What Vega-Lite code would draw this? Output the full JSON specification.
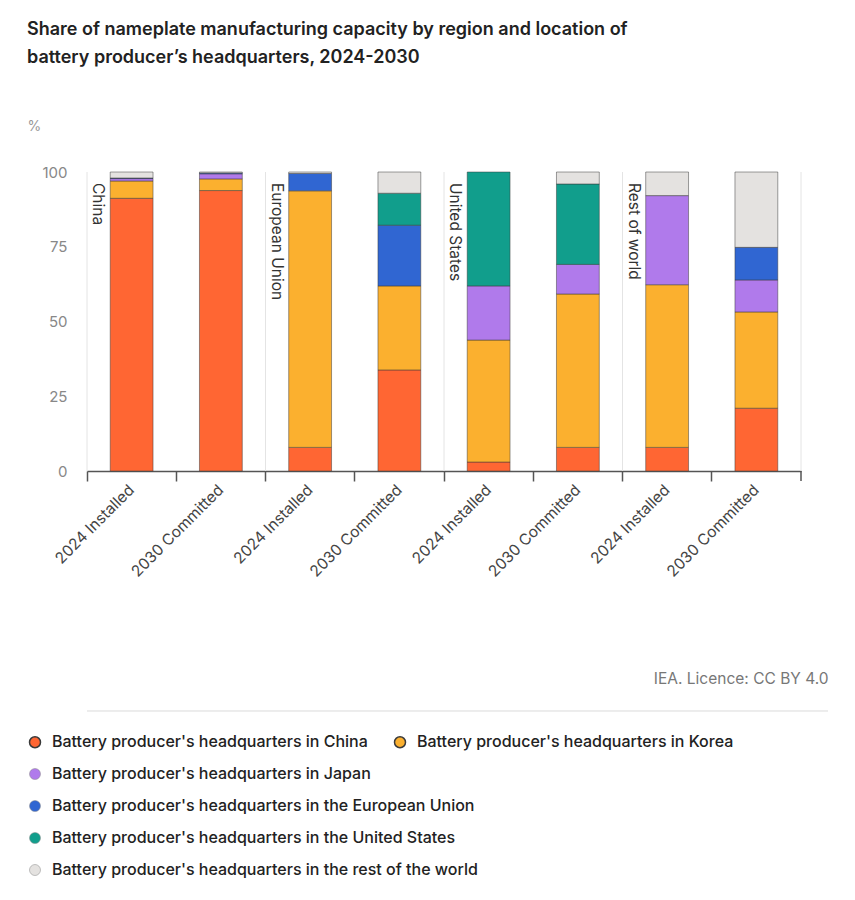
{
  "$schema": "https://vega.github.io/schema/vega-lite/v6.json",
  "width": 714,
  "height": 299,
  "autosize": {"type": "none"},
  "padding": {"left": 87, "top": 172, "right": 54, "bottom": 429},
  "background": "white",
  "title": {
    "text": ["Share of nameplate manufacturing capacity by region and location of", "battery producer’s headquarters, 2024-2030"],
    "anchor": "start",
    "frame": "group",
    "dx": -60,
    "offset": 52,
    "fontSize": 18,
    "font": "Inter",
    "fontWeight": 600,
    "color": "#222222",
    "lineHeight": 28
  },
  "config": {"view": {"stroke": null}, "font": "Inter"},
  "data": {
    "values": [
      {"region": "China", "period": "2024 Installed", "hq": "Battery producer's headquarters in China", "value": 91.2},
      {"region": "China", "period": "2024 Installed", "hq": "Battery producer's headquarters in Korea", "value": 5.8},
      {"region": "China", "period": "2024 Installed", "hq": "Battery producer's headquarters in Japan", "value": 0.8},
      {"region": "China", "period": "2024 Installed", "hq": "Battery producer's headquarters in the European Union", "value": 0.2},
      {"region": "China", "period": "2024 Installed", "hq": "Battery producer's headquarters in the rest of the world", "value": 2.0},
      {"region": "China", "period": "2030 Committed", "hq": "Battery producer's headquarters in China", "value": 93.8},
      {"region": "China", "period": "2030 Committed", "hq": "Battery producer's headquarters in Korea", "value": 3.9},
      {"region": "China", "period": "2030 Committed", "hq": "Battery producer's headquarters in Japan", "value": 1.7},
      {"region": "China", "period": "2030 Committed", "hq": "Battery producer's headquarters in the European Union", "value": 0.3},
      {"region": "China", "period": "2030 Committed", "hq": "Battery producer's headquarters in the rest of the world", "value": 0.3},
      {"region": "European Union", "period": "2024 Installed", "hq": "Battery producer's headquarters in China", "value": 7.9},
      {"region": "European Union", "period": "2024 Installed", "hq": "Battery producer's headquarters in Korea", "value": 85.8},
      {"region": "European Union", "period": "2024 Installed", "hq": "Battery producer's headquarters in the European Union", "value": 5.8},
      {"region": "European Union", "period": "2024 Installed", "hq": "Battery producer's headquarters in the rest of the world", "value": 0.5},
      {"region": "European Union", "period": "2030 Committed", "hq": "Battery producer's headquarters in China", "value": 33.8},
      {"region": "European Union", "period": "2030 Committed", "hq": "Battery producer's headquarters in Korea", "value": 28.1},
      {"region": "European Union", "period": "2030 Committed", "hq": "Battery producer's headquarters in the European Union", "value": 20.3},
      {"region": "European Union", "period": "2030 Committed", "hq": "Battery producer's headquarters in the United States", "value": 10.7},
      {"region": "European Union", "period": "2030 Committed", "hq": "Battery producer's headquarters in the rest of the world", "value": 7.1},
      {"region": "United States", "period": "2024 Installed", "hq": "Battery producer's headquarters in China", "value": 3.0},
      {"region": "United States", "period": "2024 Installed", "hq": "Battery producer's headquarters in Korea", "value": 40.8},
      {"region": "United States", "period": "2024 Installed", "hq": "Battery producer's headquarters in Japan", "value": 18.1},
      {"region": "United States", "period": "2024 Installed", "hq": "Battery producer's headquarters in the United States", "value": 38.1},
      {"region": "United States", "period": "2030 Committed", "hq": "Battery producer's headquarters in China", "value": 7.9},
      {"region": "United States", "period": "2030 Committed", "hq": "Battery producer's headquarters in Korea", "value": 51.3},
      {"region": "United States", "period": "2030 Committed", "hq": "Battery producer's headquarters in Japan", "value": 9.9},
      {"region": "United States", "period": "2030 Committed", "hq": "Battery producer's headquarters in the United States", "value": 26.9},
      {"region": "United States", "period": "2030 Committed", "hq": "Battery producer's headquarters in the rest of the world", "value": 4.0},
      {"region": "Rest of world", "period": "2024 Installed", "hq": "Battery producer's headquarters in China", "value": 7.9},
      {"region": "Rest of world", "period": "2024 Installed", "hq": "Battery producer's headquarters in Korea", "value": 54.4},
      {"region": "Rest of world", "period": "2024 Installed", "hq": "Battery producer's headquarters in Japan", "value": 29.8},
      {"region": "Rest of world", "period": "2024 Installed", "hq": "Battery producer's headquarters in the rest of the world", "value": 7.9},
      {"region": "Rest of world", "period": "2030 Committed", "hq": "Battery producer's headquarters in China", "value": 21.0},
      {"region": "Rest of world", "period": "2030 Committed", "hq": "Battery producer's headquarters in Korea", "value": 32.2},
      {"region": "Rest of world", "period": "2030 Committed", "hq": "Battery producer's headquarters in Japan", "value": 10.7},
      {"region": "Rest of world", "period": "2030 Committed", "hq": "Battery producer's headquarters in the European Union", "value": 10.9},
      {"region": "Rest of world", "period": "2030 Committed", "hq": "Battery producer's headquarters in the rest of the world", "value": 25.2}
    ]
  },
  "transform": [
    {"calculate": "datum.region + '|' + datum.period", "as": "key"},
    {"calculate": "indexof([\"Battery producer's headquarters in China\", \"Battery producer's headquarters in Korea\", \"Battery producer's headquarters in Japan\", \"Battery producer's headquarters in the European Union\", \"Battery producer's headquarters in the United States\", \"Battery producer's headquarters in the rest of the world\"], datum.hq)", "as": "stackOrder"}
  ],
  "resolve": {"scale": {"color": "independent"}, "legend": {"color": "independent"}},
  "layer": [
    {
      "transform": [{"filter": "datum.period === '2024 Installed' && datum.hq === \"Battery producer's headquarters in China\""}],
      "mark": {"type": "rule", "color": "#e4e4e4", "strokeWidth": 1},
      "encoding": {
        "x": {"field": "key", "type": "nominal", "bandPosition": 0},
        "y": {"datum": 0, "scale": {"domain": [0, 100]}},
        "y2": {"datum": 100}
      }
    },
    {
      "transform": [{"filter": "datum.region === 'Rest of world' && datum.period === '2030 Committed' && datum.hq === \"Battery producer's headquarters in China\""}],
      "mark": {"type": "rule", "color": "#e4e4e4", "strokeWidth": 1},
      "encoding": {
        "x": {"field": "key", "type": "nominal", "bandPosition": 1},
        "y": {"datum": 0, "scale": {"domain": [0, 100]}},
        "y2": {"datum": 100}
      }
    },
    {
      "mark": {"type": "bar", "width": {"band": 0.48}, "stroke": "#3a3a3a", "strokeWidth": 0.7, "strokeOpacity": 0.7},
      "encoding": {
        "x": {
          "field": "key",
          "type": "nominal",
          "scale": {
            "domain": ["China|2024 Installed", "China|2030 Committed", "European Union|2024 Installed", "European Union|2030 Committed", "United States|2024 Installed", "United States|2030 Committed", "Rest of world|2024 Installed", "Rest of world|2030 Committed"],
            "paddingInner": 0,
            "paddingOuter": 0
          },
          "axis": {
            "title": "IEA. Licence: CC BY 4.0",
            "titleX": 741,
            "titleY": 212,
            "titleAlign": "right",
            "titleBaseline": "alphabetic",
            "titleFontSize": 15.5,
            "titleFontWeight": "normal",
            "titleColor": "#777777",
            "labelExpr": "split(datum.label, '|')[1]",
            "labelAngle": -45,
            "labelFontSize": 15.5,
            "labelColor": "#444444",
            "labelPadding": 6,
            "bandPosition": 0,
            "tickSize": 10,
            "tickColor": "#555555",
            "tickWidth": 1.5,
            "domainColor": "#555555",
            "domainWidth": 1.5,
            "grid": false
          }
        },
        "y": {
          "field": "value",
          "type": "quantitative",
          "stack": "zero",
          "scale": {"domain": [0, 100]},
          "axis": {
            "title": "%",
            "titleAngle": 0,
            "titleX": -60,
            "titleY": -46,
            "titleAlign": "left",
            "titleBaseline": "middle",
            "titleFontSize": 14,
            "titleFontWeight": "normal",
            "titleColor": "#999999",
            "values": [0, 25, 50, 75, 100],
            "domain": false,
            "ticks": false,
            "labelPadding": 20,
            "labelFontSize": 15,
            "labelColor": "#888888",
            "gridColor": "#e8e8e8"
          }
        },
        "order": {"field": "stackOrder", "type": "quantitative", "sort": "ascending"},
        "color": {
          "field": "hq",
          "type": "nominal",
          "scale": {
            "domain": ["Battery producer's headquarters in China", "Battery producer's headquarters in Korea", "Battery producer's headquarters in Japan", "Battery producer's headquarters in the European Union", "Battery producer's headquarters in the United States", "Battery producer's headquarters in the rest of the world"],
            "range": ["#FF6633", "#FBB02F", "#B07AEB", "#3066D2", "#119E8C", "#E4E2E0"]
          },
          "legend": {
            "values": ["Battery producer's headquarters in China", "Battery producer's headquarters in Korea"],
            "orient": "none",
            "legendX": -60,
            "legendY": 562,
            "direction": "horizontal",
            "title": null,
            "symbolType": "circle",
            "symbolSize": 121,
            "labelFontSize": 16,
            "labelFontWeight": 500,
            "labelColor": "#222222",
            "labelLimit": 0,
            "columnPadding": 23,
            "padding": 0,
            "labelOffset": 9
          }
        }
      }
    },
    {
      "transform": [{"filter": "datum.period === '2024 Installed' && datum.hq === \"Battery producer's headquarters in China\""}],
      "mark": {"type": "text", "angle": 90, "align": "left", "baseline": "middle", "xOffset": 11, "yOffset": 11, "fontSize": 15.5, "color": "#333333"},
      "encoding": {
        "x": {"field": "key", "type": "nominal", "bandPosition": 0},
        "y": {"datum": 100, "scale": {"domain": [0, 100]}},
        "text": {"field": "region"}
      }
    },
    {
      "transform": [{"filter": "datum.region === 'Rest of world' && datum.period === '2030 Committed' && datum.hq === \"Battery producer's headquarters in China\""}],
      "mark": {"type": "rule", "color": "#555555", "strokeWidth": 1.5, "y2Offset": 10},
      "encoding": {
        "x": {"field": "key", "type": "nominal", "bandPosition": 1},
        "y": {"datum": 0, "scale": {"domain": [0, 100]}},
        "y2": {"datum": 0}
      }
    },
    {
      "mark": {"type": "rule", "color": "#ececec", "strokeWidth": 1, "xOffset": 27, "x2Offset": -60},
      "encoding": {
        "y": {"datum": -80.3, "scale": {"domain": [0, 100]}}
      }
    },
    {
      "transform": [{"filter": {"field": "hq", "oneOf": ["Battery producer's headquarters in Japan", "Battery producer's headquarters in the European Union", "Battery producer's headquarters in the United States", "Battery producer's headquarters in the rest of the world"]}}],
      "mark": {"type": "point", "filled": true, "opacity": 0},
      "encoding": {
        "x": {"field": "key", "type": "nominal"},
        "y": {"field": "value", "type": "quantitative", "scale": {"domain": [0, 100]}},
        "color": {
          "field": "hq",
          "type": "nominal",
          "scale": {
            "domain": ["Battery producer's headquarters in Japan", "Battery producer's headquarters in the European Union", "Battery producer's headquarters in the United States", "Battery producer's headquarters in the rest of the world"],
            "range": ["#B07AEB", "#3066D2", "#119E8C", "#E4E2E0"]
          },
          "legend": {
            "orient": "none",
            "legendX": -60,
            "legendY": 594,
            "direction": "vertical",
            "title": null,
            "symbolType": "circle",
            "symbolSize": 121,
            "symbolOpacity": 1,
            "symbolStrokeColor": "#888888",
            "symbolStrokeWidth": 0.5,
            "labelFontSize": 16,
            "labelFontWeight": 500,
            "labelColor": "#222222",
            "labelLimit": 0,
            "rowPadding": 16,
            "padding": 0,
            "labelOffset": 9
          }
        }
      }
    }
  ]
}
